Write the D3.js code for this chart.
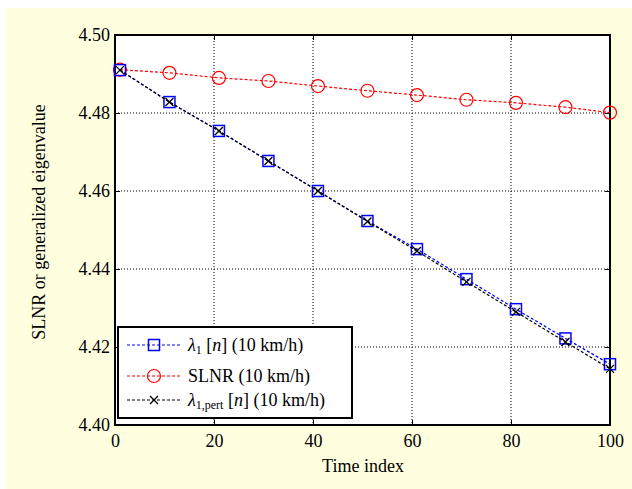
<!DOCTYPE html>
<html>
<head>
<meta charset="utf-8">
<script src="https://cdn.jsdelivr.net/npm/d3@7"></script>
<style>
  body { margin: 0; background: #fff; }
</style>
</head>
<body>
<div id="chart"></div>
<script>
const timeIdx = [1, 11, 21, 31, 41, 51, 61, 71, 81, 91, 100];
const lambda1 = [4.4910, 4.4828, 4.4754, 4.4677, 4.4600, 4.4523, 4.4451, 4.4374, 4.4297, 4.4222, 4.4156];
const slnr = [4.4911, 4.4903, 4.4890, 4.4882, 4.4869, 4.4857, 4.4846, 4.4834, 4.4826, 4.4815, 4.4801];
const lambdaPert = [4.4910, 4.4828, 4.4754, 4.4677, 4.4600, 4.4522, 4.4446, 4.4367, 4.4290, 4.4213, 4.4144];
const xTicks = [0, 20, 40, 60, 80, 100];
const yTicks = [4.40, 4.42, 4.44, 4.46, 4.48, 4.50];

let width = 632;
let height = 489;
const mLeft = 115, mRight = 610, mTop = 35, mBottom = 425;
const serif = "'Liberation Serif', 'Times New Roman', serif";

const svg = d3.select("#chart")
  .append("svg")
  .attr("width", width)
  .attr("height", height)
  .attr("font-family", serif);

svg.append("rect")
  .attr("x", 6).attr("y", 8)
  .attr("width", width - 6).attr("height", height - 8)
  .attr("fill", "#ffffe0");

svg.append("rect")
  .attr("x", mLeft).attr("y", mTop)
  .attr("width", mRight - mLeft).attr("height", mBottom - mTop)
  .attr("fill", "white");

const x = d3.scaleLinear().domain([0, 100]).range([mLeft, mRight]);
const y = d3.scaleLinear().domain([4.40, 4.50]).range([mBottom, mTop]);

// grid
svg.append("g").selectAll("line")
  .data(xTicks.slice(1, -1))
  .join("line")
  .attr("x1", d => x(d)).attr("x2", d => x(d))
  .attr("y1", mTop).attr("y2", mBottom)
  .attr("stroke", "black").attr("stroke-width", 1)
  .attr("stroke-dasharray", "1,2");

svg.append("g").selectAll("line")
  .data(yTicks.slice(1, -1))
  .join("line")
  .attr("x1", mLeft).attr("x2", mRight)
  .attr("y1", d => y(d)).attr("y2", d => y(d))
  .attr("stroke", "black").attr("stroke-width", 1)
  .attr("stroke-dasharray", "1,2");

// axes
svg.append("g")
  .attr("transform", `translate(0,${mBottom})`)
  .call(d3.axisBottom(x).tickValues(xTicks).tickSize(-5).tickPadding(9).tickFormat(d3.format("d")))
  .attr("font-family", serif)
  .call(g => g.select(".domain").remove())
  .call(g => g.selectAll("text").attr("font-size", 18).attr("fill", "black"));

svg.append("g")
  .attr("transform", `translate(0,${mTop})`)
  .call(d3.axisTop(x).tickValues(xTicks).tickSize(-5).tickFormat(""))
  .call(g => g.select(".domain").remove());

svg.append("g")
  .attr("transform", `translate(${mLeft},0)`)
  .call(d3.axisLeft(y).tickValues(yTicks).tickSize(-5).tickPadding(5).tickFormat(d3.format(".2f")))
  .attr("font-family", serif)
  .call(g => g.select(".domain").remove())
  .call(g => g.selectAll("text").attr("font-size", 18).attr("fill", "black"));

svg.append("g")
  .attr("transform", `translate(${mRight},0)`)
  .call(d3.axisRight(y).tickValues(yTicks).tickSize(-5).tickFormat(""))
  .call(g => g.select(".domain").remove());

svg.append("rect")
  .attr("x", mLeft).attr("y", mTop)
  .attr("width", mRight - mLeft).attr("height", mBottom - mTop)
  .attr("fill", "none").attr("stroke", "black").attr("stroke-width", 2);

// lines
const line = (ys) => d3.line().x((d, i) => x(timeIdx[i])).y(d => y(d))(ys);

const series = [
  { vals: slnr, color: "red", marker: "circle" },
  { vals: lambda1, color: "blue", marker: "square" },
  { vals: lambdaPert, color: "black", marker: "cross" }
];

function drawMarker(g, kind, color) {
  if (kind === "circle") {
    g.append("circle").attr("r", 6.5).attr("fill", "none").attr("stroke", color).attr("stroke-width", 1.2);
  } else if (kind === "square") {
    g.append("rect").attr("x", -5.5).attr("y", -5.5).attr("width", 11).attr("height", 11)
      .attr("fill", "none").attr("stroke", color).attr("stroke-width", 1.5);
  } else {
    g.append("path").attr("d", "M-4,-4L4,4M-4,4L4,-4").attr("stroke", color).attr("stroke-width", 1.3);
  }
}

series.forEach(s => {
  svg.append("path")
    .attr("d", line(s.vals))
    .attr("fill", "none").attr("stroke", s.color).attr("stroke-width", 1.2)
    .attr("stroke-dasharray", "3,2");
  s.vals.forEach((v, i) => {
    const g = svg.append("g").attr("transform", `translate(${x(timeIdx[i])},${y(v)})`);
    drawMarker(g, s.marker, s.color);
  });
});

// axis titles
svg.append("text")
  .attr("x", 363).attr("y", 472)
  .attr("text-anchor", "middle").attr("font-size", 18)
  .text("Time index");

svg.append("text")
  .attr("transform", `translate(45,222) rotate(-90)`)
  .attr("text-anchor", "middle").attr("font-size", 18)
  .text("SLNR or generalized eigenvalue");

// legend
const lg = svg.append("g");
lg.append("rect")
  .attr("x", 118).attr("y", 327).attr("width", 234).attr("height", 91)
  .attr("fill", "white").attr("stroke", "black").attr("stroke-width", 2);

const legendRows = [
  { y: 345, color: "blue", marker: "square", label: "lambda" },
  { y: 376, color: "red", marker: "circle", label: "slnr" },
  { y: 400, color: "black", marker: "cross", label: "pert" }
];

legendRows.forEach(r => {
  lg.append("line")
    .attr("x1", 127).attr("x2", 181).attr("y1", r.y).attr("y2", r.y)
    .attr("stroke", r.color).attr("stroke-width", 1.2).attr("stroke-dasharray", "3,2");
  drawMarker(lg.append("g").attr("transform", `translate(154,${r.y})`), r.marker, r.color);
  const t = lg.append("text").attr("x", 188).attr("y", r.y + 6).attr("font-size", 18);
  if (r.label === "slnr") {
    t.text("SLNR (10 km/h)");
  } else {
    t.append("tspan").attr("font-style", "italic").text("λ");
    t.append("tspan").attr("font-size", 12).attr("dy", 3).text(r.label === "pert" ? "1,pert" : "1");
    t.append("tspan").attr("dy", -3).text(" [");
    t.append("tspan").attr("font-style", "italic").text("n");
    t.append("tspan").text("] (10 km/h)");
  }
});
</script>
</body>
</html>
